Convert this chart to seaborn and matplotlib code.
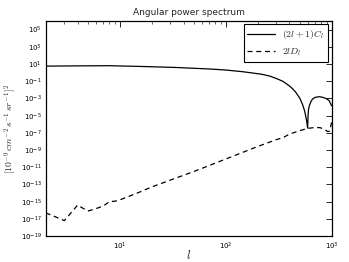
import numpy as np
import pandas as pd
import matplotlib
matplotlib.use("Agg")
import matplotlib.pyplot as plt
import matplotlib.ticker as mticker
import seaborn as sns

# ---- data ----
l_cl = [2, 4, 7.8, 15, 33, 70, 100, 145, 180, 220, 260, 300, 345, 370, 400, 428, 460,
        500, 532, 555, 569, 585, 594, 600, 606, 617, 640, 662, 700, 766, 830, 900, 950, 1000]
log_cl = [0.75, 0.78, 0.80, 0.72, 0.60, 0.42, 0.30, 0.10, -0.05, -0.20, -0.40, -0.68,
          -1.00, -1.25, -1.55, -1.87, -2.30, -2.95, -3.70, -4.40, -5.00, -5.80, -6.45,
          -5.00, -4.30, -3.85, -3.35, -3.07, -2.88, -2.80, -2.88, -3.05, -3.27, -3.85]

l_dl = [2, 3, 4, 5, 6, 7, 8, 9, 10, 15, 20, 30, 50, 70, 100, 150, 200, 300, 350,
        400, 500, 600, 700, 780, 850, 920, 960, 1000]
log_dl = [-16.3, -17.2, -15.4, -16.1, -15.8, -15.5, -15.0, -14.95, -14.8, -13.95,
          -13.3, -12.5, -11.5, -10.8, -10.05, -9.2, -8.6, -7.8, -7.55, -7.15, -6.75,
          -6.48, -6.38, -6.4, -6.6, -6.85, -6.8, -5.8]

label_cl = r"$(2l+1)C_l$"
label_dl = r"$2lD_l$"
title = "Angular power spectrum"
xlabel = r"$l$"
ylabel = r"$[10^{-9}\, cm^{-2}\, s^{-1}\, sr^{-1}]^2$"
yticks = [10.0 ** e for e in range(-19, 6, 2)]

# ---- style ----
sns.set_style("white")
plt.rcParams.update({
    "font.family": ["DejaVu Sans"],
    "mathtext.fontset": "cm",
    "xtick.direction": "in",
    "ytick.direction": "in",
    "xtick.top": True,
    "ytick.right": True,
    "axes.edgecolor": "black",
    "axes.linewidth": 0.9,
})

df_cl = pd.DataFrame({"l": l_cl, "v": np.power(10.0, log_cl)})
df_dl = pd.DataFrame({"l": l_dl, "v": np.power(10.0, log_dl)})

fig = plt.figure(figsize=(3.49, 2.62), dpi=100)
ax = fig.add_axes([0.131, 0.099, 0.819, 0.821])

sns.lineplot(data=df_cl, x="l", y="v", ax=ax, color="black", lw=0.9,
             label=label_cl, sort=False)
sns.lineplot(data=df_dl, x="l", y="v", ax=ax, color="black", lw=0.9,
             linestyle="--", dashes=False, label=label_dl, sort=False)
ax.lines[1].set_dashes([4, 3])

ax.set_xscale("log")
ax.set_yscale("log")
ax.set_xlim(2, 1000)
ax.set_ylim(1e-19, 1e6)

ax.yaxis.set_major_locator(mticker.FixedLocator(yticks))
ax.yaxis.set_minor_locator(mticker.NullLocator())
ax.yaxis.set_major_formatter(mticker.LogFormatterSciNotation())
ax.xaxis.set_major_locator(mticker.LogLocator(base=10))
ax.xaxis.set_minor_locator(mticker.LogLocator(base=10, subs=np.arange(2, 10)))
ax.xaxis.set_minor_formatter(mticker.NullFormatter())

ax.tick_params(which="major", length=4, width=0.6, labelsize=5, pad=3, colors="black")
ax.tick_params(which="minor", length=2, width=0.5)
for s in ax.spines.values():
    s.set_visible(True)
    s.set_color("black")

ax.set_title(title, fontsize=6.5, pad=4)
ax.set_xlabel(xlabel, fontsize=9)
ax.xaxis.set_label_coords(0.5, -0.06)
ax.set_ylabel(ylabel, fontsize=7, labelpad=2)

leg = ax.legend(loc="upper right", fontsize=7, frameon=True, fancybox=False,
                edgecolor="black", framealpha=1, handlelength=2.8,
                borderaxespad=0.35, labelspacing=0.5)
leg.get_frame().set_linewidth(0.8)

fig.savefig("out.png", dpi=100, facecolor="white")
